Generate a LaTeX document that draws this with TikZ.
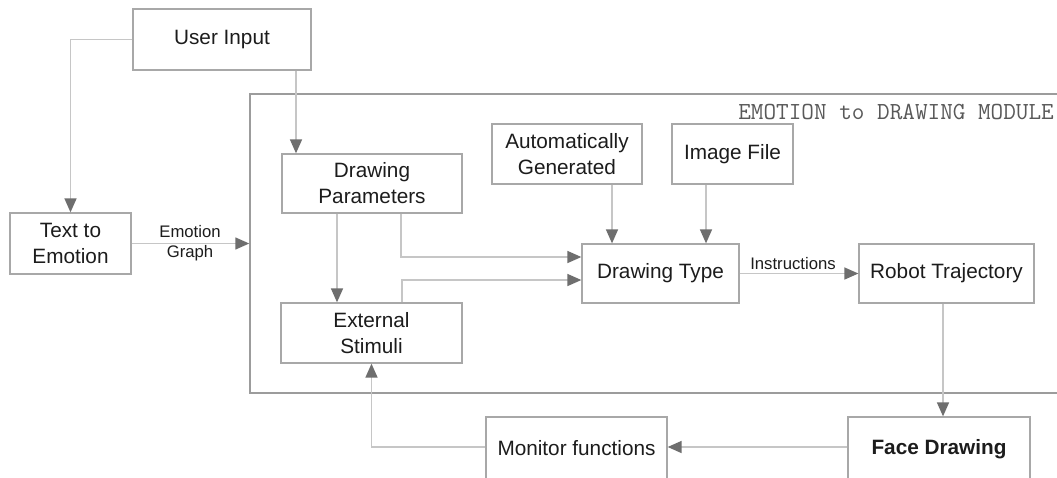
\documentclass[tikz,border=0pt]{standalone}
\usepackage{fontspec}
\setmainfont{Liberation Sans}
\usetikzlibrary{arrows.meta}
\definecolor{boxgray}{HTML}{A8A8A8}
\definecolor{linegray}{HTML}{C6C6C6}
\definecolor{tipgray}{HTML}{6E6E6E}
\definecolor{framegray}{HTML}{9C9C9C}
\definecolor{txt}{HTML}{1C1C1C}
\begin{document}
\begin{tikzpicture}[x=1pt,y=-1pt,
  box/.style={draw=boxgray,line width=1.3pt,inner sep=0pt,align=center,text=txt,
    font=\fontsize{20.75}{26}\selectfont},
  conn/.style={draw=linegray,line width=1.5pt},
  arr/.style={conn,-{Triangle[length=14pt,width=12pt,fill=tipgray,color=tipgray]}},
  lbl/.style={inner sep=0pt,align=center,text=txt,font=\fontsize{16.7}{19.5}\selectfont}]
\useasboundingbox (0,0) rectangle (1057,477);
\clip (0,0) rectangle (1057,477);
\fill[white] (0,0) rectangle (1057,477);

% module frame
\node[draw=framegray,line width=1.5pt,inner sep=0pt,minimum width=830pt,minimum height=299pt] (mod) at (665,243.5) {};
\node[anchor=east,inner sep=0pt,text=black!65,font=\ttfamily\fontsize{24.5}{26}\selectfont] (modlbl) at (1054,112) {EMOTION to DRAWING MODULE};

% boxes
\node[box,minimum width=178pt,minimum height=61pt] (ui) at (222,39.5) {User Input};
\node[box,minimum width=121pt,minimum height=61pt] (te) at (70.5,243.5) {Text to\\Emotion};
\node[box,minimum width=180pt,minimum height=59pt] (dp) at (372,183.5) {Drawing\\Parameters};
\node[box,minimum width=181pt,minimum height=60pt] (es) at (371.5,333) {External\\Stimuli};
\node[box,minimum width=150pt,minimum height=60pt] (ag) at (567,154) {Automatically\\Generated};
\node[box,minimum width=121pt,minimum height=60pt] (if) at (732.5,154) {Image File};
\node[box,minimum width=157pt,minimum height=59pt] (dt) at (660.5,273.5) {Drawing Type};
\node[box,minimum width=175pt,minimum height=59pt] (rt) at (946.5,273.5) {Robot Trajectory};
\node[box,minimum width=182pt,minimum height=64pt,font=\bfseries\fontsize{20.75}{26}\selectfont] (fd) at (939,449) {\raisebox{2pt}{Face Drawing}};
\node[box,minimum width=181pt,minimum height=64pt] (mf) at (576.5,449) {\raisebox{2pt}{Monitor functions}};

% connectors
\draw[arr] (ui.west) -| (te.north);
\draw[arr] ([xshift=74pt]ui.south) -- ([xshift=74pt]ui.south |- dp.north);
\draw[arr] (te.east) -- (mod.west);
\node[lbl] (eg) at (190,243) {Emotion\\Graph};
\draw[arr] ([xshift=-35pt]dp.south) -- ([xshift=-35pt]dp.south |- es.north);
\draw[arr] ([xshift=29pt]dp.south) |- ([yshift=16.5pt]dt.west);
\draw[arr] ([xshift=30.5pt]es.north) |- ([yshift=-6.5pt]dt.west);
\draw[arr] ([xshift=45pt]ag.south) -- ([xshift=45pt]ag.south |- dt.north);
\draw[arr] ([xshift=-26.5pt]if.south) -- ([xshift=-26.5pt]if.south |- dt.north);
\draw[arr] (dt.east) -- (rt.west);
\node[lbl] (ins) at (793,264) {Instructions};
\draw[arr] ([xshift=-3.5pt]rt.south) -- ([xshift=-3.5pt]rt.south |- fd.north);
\draw[arr] ([yshift=2pt]fd.west) -- ([yshift=2pt]mf.east);
\draw[arr] ([yshift=2pt]mf.west) -| (es.south);
\end{tikzpicture}
\end{document}
